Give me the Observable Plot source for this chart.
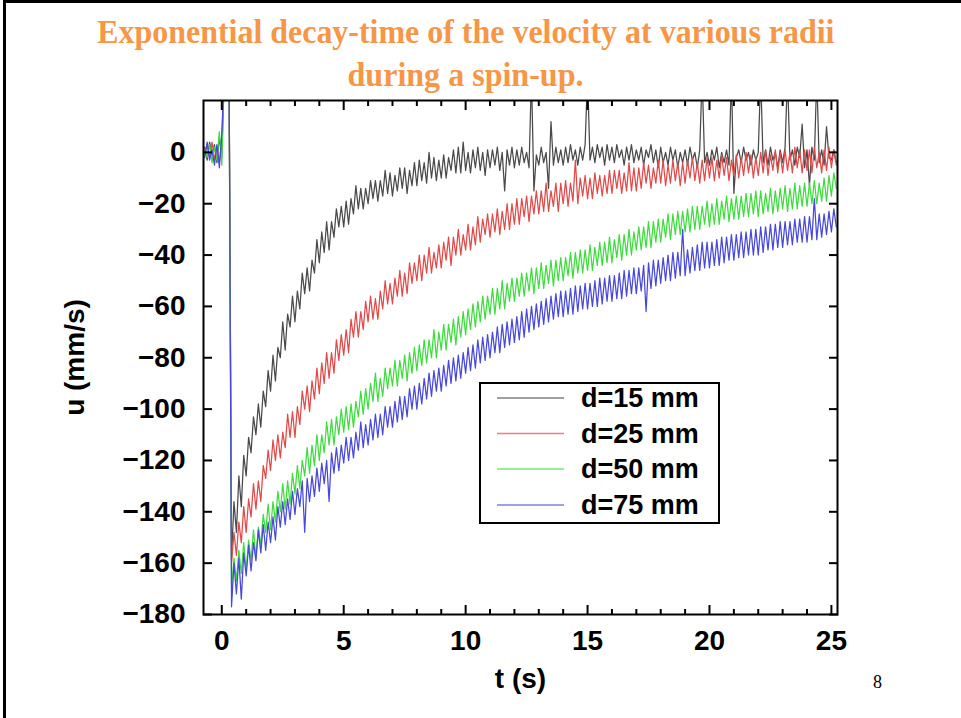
<!DOCTYPE html>
<html><head><meta charset="utf-8">
<script src="https://cdn.jsdelivr.net/npm/d3@7"></script>
<script src="https://cdn.jsdelivr.net/npm/@observablehq/plot@0.6"></script>
<style>
body{margin:0;background:#fff;}
#page{position:relative;width:961px;height:718px;overflow:hidden;background:#fff;}
.bar{position:absolute;background:#000;}
.title{position:absolute;left:0;width:932px;text-align:center;font-family:"Liberation Serif","Times New Roman",serif;font-weight:bold;color:#f79646;font-size:33px;line-height:33px;white-space:nowrap;}
.title span{display:inline-block;transform-origin:50% 50%;}
#head{position:relative;height:95px;}
#chart{display:block;}
#legend{position:absolute;left:479px;top:382px;width:241px;height:142px;border:2px solid #000;background:#fff;box-sizing:border-box;}
#lgsvg{position:absolute;left:0;top:0;}
.lgtext{position:absolute;left:581px;font-family:"Liberation Sans",Arial,Helvetica,sans-serif;font-weight:bold;font-size:27px;line-height:27px;white-space:nowrap;color:#000;}
#pnum{position:absolute;left:873px;top:673px;font-family:"Liberation Serif","Times New Roman",serif;font-size:18px;line-height:18px;color:#000;}
</style></head>
<body>
<div id="page">
  <div id="head">
    <div class="title" id="t1" style="top:16px"><span>Exponential decay-time of the velocity at various radii</span></div>
    <div class="title" id="t2" style="top:59px"><span>during a spin-up.</span></div>
  </div>
  <div id="chart"></div>
  <div id="legendwrap"></div>
  <div id="pnum">8</div>
  <div class="bar" style="left:3px;top:0;width:958px;height:3px"></div>
  <div class="bar" style="left:3px;top:0;width:3px;height:718px"></div>
</div>
<script>
// ---------- data ----------
const seriesNames = ["d=15 mm", "d=25 mm", "d=50 mm", "d=75 mm"];
const seriesColors = ["#4a4a4a", "#e04a4a", "#3fdc3f", "#4848dc"];
const xLabel = "t (s)";
const yLabel = "u (mm/s)";
const xMajor = [0, 5, 10, 15, 20, 25];
const xMinor = [1,2,3,4,6,7,8,9,11,12,13,14,16,17,18,19,21,22,23,24];
const yMajor = [-180, -160, -140, -120, -100, -80, -60, -40, -20, 0];
const yTickLabels = ["−180","−160","−140","−120","−100","−80","−60","−40","−20","0"];

const time = [
-0.7,-0.6,-0.5,-0.4,-0.3,-0.2,-0.1,0,0.1,0.3,
0.4,0.5,0.6,0.7,0.8,0.9,
1,1.1,1.2,1.3,1.4,1.5,1.6,1.7,1.8,1.9,
2,2.1,2.2,2.3,2.4,2.5,2.6,2.7,2.8,2.9,
3,3.1,3.2,3.3,3.4,3.5,3.6,3.7,3.8,3.9,
4,4.1,4.2,4.3,4.4,4.5,4.6,4.7,4.8,4.9,
5,5.1,5.2,5.3,5.4,5.5,5.6,5.7,5.8,5.9,
6,6.1,6.2,6.3,6.4,6.5,6.6,6.7,6.8,6.9,
7,7.1,7.2,7.3,7.4,7.5,7.6,7.7,7.8,7.9,
8,8.1,8.2,8.3,8.4,8.5,8.6,8.7,8.8,8.9,
9,9.1,9.2,9.3,9.4,9.5,9.6,9.7,9.8,9.9,
10,10.1,10.2,10.3,10.4,10.5,10.6,10.7,10.8,10.9,
11,11.1,11.2,11.3,11.4,11.5,11.6,11.7,11.8,11.9,
12,12.1,12.2,12.3,12.4,12.5,12.6,12.7,12.8,12.9,
13,13.1,13.2,13.3,13.4,13.5,13.6,13.7,13.8,13.9,
14,14.1,14.2,14.3,14.4,14.5,14.6,14.7,14.8,14.9,
15,15.1,15.2,15.3,15.4,15.5,15.6,15.7,15.8,15.9,
16,16.1,16.2,16.3,16.4,16.5,16.6,16.7,16.8,16.9,
17,17.1,17.2,17.3,17.4,17.5,17.6,17.7,17.8,17.9,
18,18.1,18.2,18.3,18.4,18.5,18.6,18.7,18.8,18.9,
19,19.1,19.2,19.3,19.4,19.5,19.6,19.7,19.8,19.9,
20,20.1,20.2,20.3,20.4,20.5,20.6,20.7,20.8,20.9,
21,21.1,21.2,21.3,21.4,21.5,21.6,21.7,21.8,21.9,
22,22.1,22.2,22.3,22.4,22.5,22.6,22.7,22.8,22.9,
23,23.1,23.2,23.3,23.4,23.5,23.6,23.7,23.8,23.9,
24,24.1,24.2,24.3,24.4,24.5,24.6,24.7,24.8,24.9,
25,25.1,25.2];

const u15 = [
2,-3,4,-1,3,-4,6,-2,30,30,
-158,-136,-148,-126,-138,-118,
-126,-111,-117,-103,-110,-98,-107,-93,-99,-85,
-93,-79,-89,-76,-80,-66,-77,-63,-68,-56,
-66,-54,-61,-47,-55,-45,-54,-42,-47,-34,
-43,-31,-39,-27,-38,-27,-33,-22,-29,-21,
-29,-19,-28,-18,-24,-13,-22,-14,-22,-14,
-20,-11,-18,-11,-19,-11,-17,-7,-16,-8,
-17,-9,-15,-6,-14,-6,-16,-7,-13,-4,
-13,-3,-11,-4,-12,0,-10,-2,-11,-3,
-10,-1,-10,-2,-7,1,-8,2,-8,4,
-7,0,-8,1,-6,2,-7,0,-9,1,
-6,1,-5,2,-7,0,-15,1,-5,2,
-6,1,-5,2,-4,0,-6,30,-15,-1,
-5,2,-4,0,-14,12,-5,2,-4,1,
-5,2,-4,3,-3,1,-5,2,-3,3,
30,-3,2,-4,3,-2,2,-5,3,-3,
2,-4,3,-2,1,-5,2,-3,3,-4,
1,-3,2,-5,1,-2,3,-4,1,-6,
2,-4,0,-5,2,-3,1,-6,0,-4,
1,-5,2,-3,0,-6,1,30,-4,0,
-5,1,-3,2,-6,0,-4,1,-5,30,
-16,-2,1,-4,2,-3,0,-5,1,-3,
0,30,-4,1,-5,2,-3,0,-6,1,
-4,2,30,-3,1,-5,2,-2,11,-6,
1,-13,2,-3,30,-4,1,-5,10,-2,
-3,1,-4];

const u25 = [
-1,3,-2,4,-3,2,-4,5,30,30,
-160,-148,-157,-144,-152,-138,
-148,-135,-142,-129,-139,-128,-136,-122,-127,-116,
-124,-112,-120,-110,-119,-109,-115,-102,-111,-101,
-111,-99,-106,-93,-100,-91,-101,-89,-96,-84,
-94,-82,-90,-78,-88,-78,-86,-73,-81,-71,
-79,-69,-78,-65,-72,-62,-72,-62,-69,-58,
-66,-56,-65,-57,-65,-54,-61,-50,-59,-51,
-59,-49,-56,-46,-56,-47,-55,-43,-51,-43,
-50,-40,-50,-40,-47,-37,-47,-39,-45,-36,
-45,-35,-42,-33,-44,-33,-40,-30,-40,-32,
-38,-28,-38,-29,-36,-25,-35,-26,-32,-24,
-33,-24,-31,-22,-32,-23,-30,-20,-30,-20,
-28,-18,-28,-18,-25,-17,-27,-17,-24,-15,
-24,-15,-23,-12,-23,-15,-21,-12,-23,-12,
-20,-11,-21,-12,-19,-3,-20,-10,-17,-9,
-18,-10,-18,-8,-16,-9,-17,-9,-16,-7,
-16,-7,-14,-7,-16,-8,-15,-4,-15,-6,
-15,-6,-14,-4,-12,-5,-14,-6,-12,-3,
-12,-3,-13,-5,-12,-3,-11,-4,-13,-4,
-12,-3,-10,-2,-11,-4,-12,-3,-11,-2,
-10,-2,-11,-3,-10,-1,-9,-2,-11,-3,
-9,-1,-10,-2,-9,0,-8,-1,-10,-2,
-9,0,-8,1,-9,-1,-7,1,-8,0,
-8,1,-7,0,-8,2,-6,1,-8,1,
-7,1,-8,2,-6,0,-8,1,-7,2,
-6,1,-5];

const u50 = [
1,-2,3,-4,2,-3,8,-5,30,30,
-170,-158,-167,-155,-164,-152,
-163,-151,-159,-147,-158,-146,-153,-141,-148,-137,
-147,-136,-144,-132,-140,-129,-139,-128,-137,-125,
-133,-122,-131,-120,-126,-115,-125,-114,-122,-110,
-120,-110,-117,-105,-114,-104,-114,-103,-110,-100,
-109,-99,-108,-98,-107,-97,-103,-93,-102,-92,
-100,-90,-97,-86,-97,-88,-95,-84,-92,-84,
-91,-81,-91,-81,-88,-79,-89,-78,-86,-76,
-85,-75,-83,-73,-82,-73,-80,-69,-80,-70,
-77,-67,-77,-67,-74,-65,-75,-64,-72,-62,
-71,-61,-69,-59,-68,-58,-66,-56,-65,-56,
-63,-53,-63,-53,-61,-50,-61,-51,-58,-49,
-58,-49,-56,-47,-56,-47,-54,-45,-55,-45,
-53,-43,-53,-44,-51,-42,-52,-42,-50,-41,
-50,-41,-48,-39,-49,-39,-47,-38,-47,-38,
-46,-36,-46,-37,-44,-35,-44,-35,-43,-33,
-43,-34,-41,-32,-42,-32,-40,-30,-40,-31,
-38,-29,-38,-29,-37,-27,-37,-27,-35,-26,
-35,-26,-33,-24,-34,-24,-32,-23,-32,-23,
-31,-22,-31,-21,-30,-21,-30,-21,-28,-19,
-29,-20,-28,-18,-28,-19,-26,-17,-27,-18,
-26,-17,-26,-17,-25,-16,-25,-16,-24,-15,
-25,-15,-24,-16,-23,-14,-24,-15,-23,-14,
-22,-13,-23,-14,-22,-12,-22,-13,-21,-12,
-21,-12,-20,-11,-20,-12,-19,-10,-19,-9,
-17,-8,-14];

const u75 = [
-2,4,-3,1,-5,3,-6,7,30,30,
-177,-160,-172,-158,-174,-156,
-165,-153,-163,-152,-159,-147,-156,-145,-155,-144,
-152,-142,-151,-138,-146,-136,-145,-135,-143,-132,
-141,-131,-138,-128,-148,-127,-136,-126,-134,-123,
-132,-121,-129,-120,-136,-117,-125,-115,-124,-114,
-121,-111,-120,-111,-119,-109,-116,-105,-115,-106,
-114,-104,-112,-102,-111,-102,-110,-99,-107,-99,
-107,-97,-105,-95,-104,-95,-103,-92,-100,-91,
-100,-90,-98,-88,-96,-86,-95,-85,-93,-84,
-93,-83,-91,-81,-90,-80,-89,-79,-88,-78,
-86,-76,-85,-75,-84,-73,-82,-72,-81,-71,
-80,-70,-78,-68,-78,-67,-76,-66,-75,-65,
-74,-64,-73,-62,-72,-61,-70,-60,-69,-59,
-68,-58,-67,-57,-66,-56,-65,-55,-64,-54,
-64,-54,-63,-53,-63,-52,-62,-52,-61,-51,
-61,-51,-60,-50,-60,-49,-59,-49,-58,-48,
-58,-48,-57,-47,-57,-46,-56,-46,-55,-45,
-55,-45,-54,-44,-62,-43,-53,-42,-52,-42,
-51,-41,-50,-40,-50,-39,-49,-39,-48,-30,
-48,-38,-47,-37,-46,-36,-46,-35,-45,-35,
-45,-35,-44,-34,-44,-33,-43,-33,-42,-32,
-42,-32,-41,-31,-41,-31,-40,-30,-40,-30,
-40,-29,-39,-29,-38,-28,-38,-28,-37,-27,
-37,-27,-36,-27,-36,-26,-35,-26,-35,-25,
-35,-25,-34,-18,-34,-24,-33,-24,-32,-23,
-31,-22,-29];

// ---------- build ----------
const seriesValues = [u15, u25, u50, u75];
const rows = [];
seriesValues.forEach((vals, s) => {
  vals.forEach((v, i) => rows.push({t: time[i], u: v, series: seriesNames[s]}));
});

const font = '"Liberation Sans", Arial, Helvetica, sans-serif';
const tickFmt = d => yTickLabels[yMajor.indexOf(d)];

const chart = Plot.plot({
  width: 961,
  height: 623,
  marginLeft: 203,
  marginRight: 124,
  marginTop: 5,
  marginBottom: 104,
  style: {fontFamily: font, fontSize: "28px", color: "#000", background: "#fff", overflow: "visible"},
  x: {domain: [-0.75, 25.25], label: null},
  y: {domain: [-180, 20.2], label: null},
  color: {domain: seriesNames, range: seriesColors},
  marks: [
    Plot.line(rows, {x: "t", y: "u", z: "series", stroke: "series", strokeWidth: 1.25, clip: true}),
    Plot.frame({stroke: "#000", strokeWidth: 2}),
    Plot.axisX(xMajor, {anchor: "bottom", tickSize: -9, strokeWidth: 2, fill: "none"}),
    Plot.axisX(xMajor, {anchor: "top", tickSize: -9, strokeWidth: 2, fill: "none"}),
    Plot.axisX(xMinor, {anchor: "bottom", tickSize: -5, strokeWidth: 2, fill: "none"}),
    Plot.axisX(xMinor, {anchor: "top", tickSize: -5, strokeWidth: 2, fill: "none"}),
    Plot.axisY(yMajor, {anchor: "left", tickSize: -9, strokeWidth: 2, fill: "none"}),
    Plot.axisY(yMajor, {anchor: "right", tickSize: -9, strokeWidth: 2, fill: "none"}),
    Plot.axisX(xMajor, {anchor: "bottom", tickSize: 0, tickPadding: 16, fontSize: 28, fontWeight: "bold", stroke: "none"}),
    Plot.axisY(yMajor, {anchor: "left", tickSize: 0, tickPadding: 18, tickFormat: tickFmt, fontSize: 28, fontWeight: "bold", stroke: "none"}),
    Plot.text([xLabel], {text: d => d, frameAnchor: "bottom", dy: 65, lineAnchor: "middle", fontSize: 28, fontWeight: "bold"}),
    Plot.text([yLabel], {text: d => d, frameAnchor: "left", dx: -128, rotate: -90, lineAnchor: "middle", textAnchor: "middle", fontSize: 28, fontWeight: "bold"})
  ]
});
chart.id = "chart";
document.getElementById("chart").replaceWith(chart);

// legend
const lg = document.getElementById("legendwrap");
const box = document.createElement("div");
box.id = "legend";
lg.appendChild(box);
const rowY = [398, 433.5, 469, 505];
const ns = "http://www.w3.org/2000/svg";
const lsvg = document.createElementNS(ns, "svg");
lsvg.setAttribute("id", "lgsvg");
lsvg.setAttribute("width", "961");
lsvg.setAttribute("height", "718");
lg.appendChild(lsvg);
seriesNames.forEach((name, i) => {
  const ln = document.createElementNS(ns, "line");
  ln.setAttribute("x1", 497); ln.setAttribute("x2", 564);
  ln.setAttribute("y1", rowY[i]); ln.setAttribute("y2", rowY[i]);
  ln.setAttribute("stroke", seriesColors[i]);
  ln.setAttribute("stroke-width", "1.3");
  ln.setAttribute("stroke-opacity", "0.7");
  lsvg.appendChild(ln);
  const tx = document.createElement("div");
  tx.className = "lgtext";
  tx.style.top = (rowY[i] - 13) + "px";
  tx.textContent = name;
  lg.appendChild(tx);
});

// fit title lines to the widths seen in the reference
[["t1", 737], ["t2", 236]].forEach(([id, w]) => {
  const sp = document.querySelector("#" + id + " span");
  const cur = sp.getBoundingClientRect().width;
  sp.style.transform = "scaleX(" + (w / cur).toFixed(3) + ")";
});
</script>
</body></html>
